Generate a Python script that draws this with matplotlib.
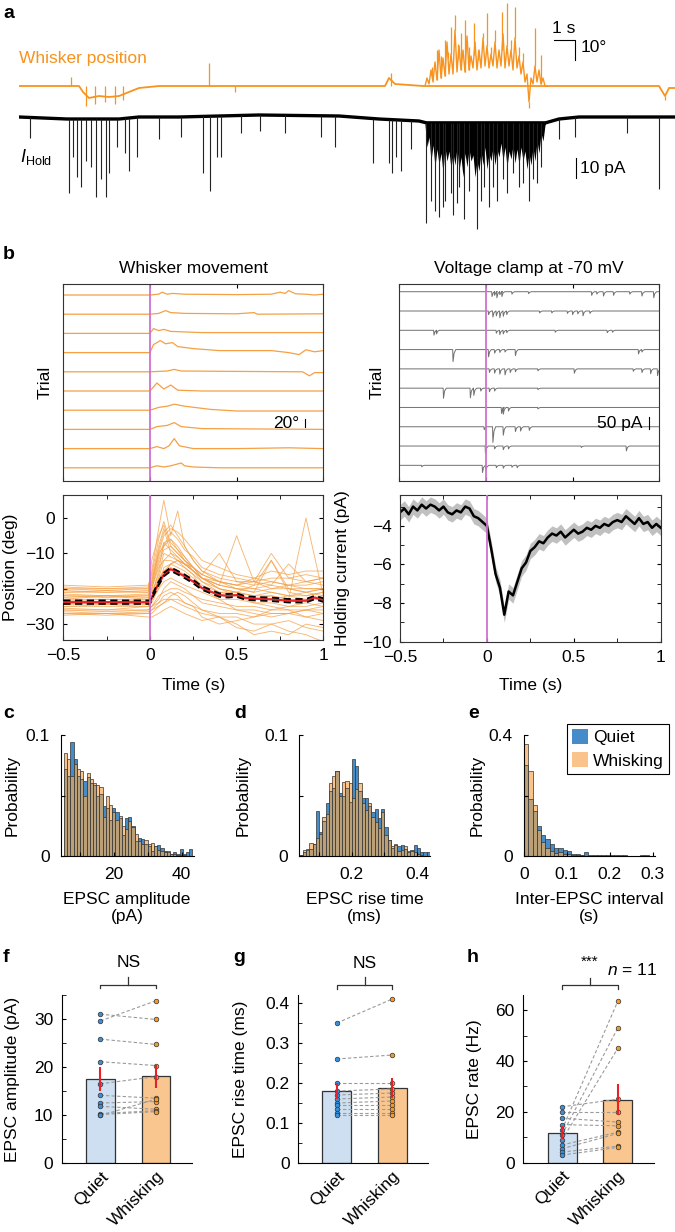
import numpy as np
import matplotlib
matplotlib.use("Agg")
import matplotlib.pyplot as plt
from matplotlib.patches import Patch

plt.rcParams['font.family'] = ['Liberation Sans', 'DejaVu Sans']
plt.rcParams['font.size'] = 12.5
plt.rcParams['mathtext.fontset'] = 'custom'
plt.rcParams['mathtext.rm'] = 'Liberation Sans'
plt.rcParams['mathtext.it'] = 'Liberation Sans:italic'
plt.rcParams['axes.linewidth'] = 0.8

W, H = 675, 1232
FS = 12.5

ORANGE = '#f7931e'
TRACE_OR = '#f5a045'
MAGENTA = '#d070d0'
Q_HIST = '#468cc8'
W_HIST = '#fac38c'
OVERLAP = '#b9a078'
Q_BAR = '#cddff0'
W_BAR = '#f9c690'
Q_DOT = '#3a8fd8'
W_DOT = '#f39a2b'

# ---------------- panel a: whisker position (deg) and holding current (pA) vs time (s)
wp_base_t = [0, 3.0, 3.2, 3.5, 4.0, 4.5, 5.0, 5.5, 6.0, 7.0, 18.3, 18.5, 18.8, 20.2,
             26.4, 27.0, 32.0, 32.3, 32.5, 32.8]
wp_base = [0, 0, -3, -6, -5, -5.5, -5, -3, -1, 0, 0, 4, 1, 0,
           0, 0, 0, -5, -1, -1]
# whisking bout, alternating troughs and peaks
wp_osc_t = [20.3, 20.4, 20.5, 20.6, 20.7, 20.8, 20.9, 21.0, 21.1, 21.2, 21.3, 21.4, 21.5, 21.6, 21.7,
            21.8, 21.9, 22.0, 22.1, 22.2, 22.3, 22.4, 22.5, 22.6, 22.7, 22.8, 22.9, 23.0, 23.1, 23.2,
            23.3, 23.4, 23.5, 23.6, 23.7, 23.8, 23.9, 24.0, 24.1, 24.2, 24.3, 24.4, 24.5, 24.6, 24.7,
            24.8, 24.9, 25.0, 25.1, 25.2, 25.3, 25.4, 25.5, 25.6, 25.7, 25.8, 25.9, 26.0, 26.1, 26.2,
            26.3, 26.4]
wp_osc = [0, 4, 1, 8, 2, 12, 3, 18, 4, 14, 5, 22, 6, 16, 6,
          28, 7, 20, 8, 18, 7, 25, 8, 15, 9, 22, 8, 18, 9, 24,
          10, 20, 9, 16, 10, 22, 9, 18, 10, 26, 9, 20, 10, 18, 8,
          24, 9, 15, 6, 12, 2, 6, -8, 4, 1, 10, 2, 8, 1, 4,
          0, 0]
wp_spk_t = [2.6, 3.35, 3.8, 4.3, 4.8, 5.2, 9.5, 10.8, 18.6,
            20.65, 20.9, 21.1, 21.3, 21.45, 21.6, 21.8, 21.95, 22.1, 22.3, 22.5, 22.75,
            22.95, 23.2, 23.4, 23.6, 23.8, 24.15, 24.4, 24.6, 24.8, 25.0, 25.2, 25.5, 25.8, 26.1, 32.3]
wp_spk = [4.5, -10, -9, -8, -9, -7, 11.5, -3, 6.5,
          9.7, 18, 15, 23, 17, 29.7, 35.5, 21, 26.3, 33, 19.7, 31.3,
          18, 26.3, 36.3, 19.7, 28, 37, 41.3, 23, 39.7, 19.7, 16.3, -11.2, 28.8, 15.5, -7]

ih_base_t = [0, 2.4, 5.0, 6.0, 8.0, 10.0, 12.0, 16.0, 18.0, 20.0, 20.4, 26.3, 27.0, 28.0, 32.8]
ih_base = [0, -1, -1, 0, 0, 0.5, 1, 0.5, -1, -2, -3, -3, -1, 0, 0]
ih_evt_t = [0.55, 2.5, 2.7, 2.9, 3.1, 3.35, 3.6, 3.85, 4.1, 4.35, 4.5, 4.9, 5.3, 5.5, 5.9, 7.0,
            8.1, 9.2, 9.55, 9.9, 10.1, 11.1, 12.05, 13.3, 15.1, 15.8, 17.7, 18.5, 18.65, 18.85,
            19.1, 19.6, 20.37, 20.6, 20.8, 21.0, 21.2, 21.3, 21.6, 21.7, 21.9, 22.0, 22.25, 22.5,
            22.9, 23.1, 23.25, 23.5, 23.7, 23.9, 24.2, 24.4, 24.7, 25.0, 25.2, 25.5, 25.7, 25.9,
            26.1, 27.0, 27.8, 30.4, 32.0]
ih_evt = [-10.5, -38, -20, -30, -35, -22, -25, -40, -31, -40, -28, -15, -18, -27, -20, -11,
          -10, -28, -37, -20, -20, -8, -7, -8, -10, -15, -23, -23, -28, -20,
          -27, -16, -53, -42, -47, -50, -45, -42, -38, -49, -43, -35, -51, -37,
          -56, -42, -35, -45, -35, -42, -31, -38, -28, -35, -33, -42, -31, -33,
          -25, -11, -10, -8, -36]
ih_burst_t = [20.3, 20.4, 20.5, 20.6, 20.7, 20.8, 20.9, 21.0, 21.1, 21.2, 21.3, 21.4, 21.5, 21.6,
              21.7, 21.8, 21.9, 22.0, 22.1, 22.2, 22.3, 22.4, 22.5, 22.6, 22.7, 22.8, 22.9, 23.0,
              23.1, 23.2, 23.3, 23.4, 23.5, 23.6, 23.7, 23.8, 23.9, 24.0, 24.1, 24.2, 24.3, 24.4,
              24.5, 24.6, 24.7, 24.8, 24.9, 25.0, 25.1, 25.2, 25.3, 25.4, 25.5, 25.6, 25.7, 25.8,
              25.9, 26.0, 26.1, 26.2, 26.3, 26.4]
ih_burst_lo = [-4, -15, -10, -22, -14, -25, -16, -24, -18, -28, -15, -22, -17, -26,
               -18, -24, -15, -27, -20, -30, -18, -25, -16, -22, -19, -30, -22, -27,
               -17, -24, -15, -26, -18, -22, -15, -24, -16, -20, -13, -22, -15, -25,
               -17, -21, -14, -23, -16, -24, -15, -22, -17, -26, -18, -24, -15, -22,
               -12, -18, -8, -12, -4, -2]

# ---------------- panel b: single trials
wm_rows = [
    [(-0.5, 0), (0, 0), (0.05, 2), (0.07, 7), (0.1, 2), (0.13, 4), (0.2, 2), (0.5, 1), (0.7, 2),
     (0.75, 7), (0.78, 4), (0.8, 11), (0.84, 3), (0.9, 2), (0.95, 0), (1.0, 2)],
    [(-0.5, 0), (0, 0), (0.05, 2), (0.09, 9), (0.12, 4), (0.2, 2), (0.5, 1), (0.6, 4), (0.62, 0), (1.0, 1)],
    [(-0.5, 0), (0, 0), (0.02, 12), (0.05, 7), (0.08, 10), (0.12, 5), (0.3, 2), (1.0, 2)],
    [(-0.5, 0), (0, 0), (0.02, 20), (0.06, 30), (0.09, 22), (0.13, 25), (0.16, 15), (0.25, 10),
     (0.4, 5), (0.7, 5), (0.8, 0), (0.86, -5), (0.9, 7), (0.95, 2), (1.0, 5)],
    [(-0.5, 0), (0, 0), (0.1, 2), (0.14, 6), (0.18, 2), (0.5, 1), (0.88, 0), (0.92, -10), (0.95, -2), (1.0, -2)],
    [(-0.5, 0), (0, 0), (0.04, 20), (0.08, 5), (0.12, 15), (0.16, 2), (0.3, 0), (1.0, 0)],
    [(-0.5, 0), (0, 0), (0.05, 7), (0.1, 10), (0.14, 15), (0.2, 10), (0.35, 2), (0.5, -2), (1.0, -2)],
    [(-0.5, 0), (0, 0), (0.04, 7), (0.1, 10), (0.14, 17), (0.18, 7), (0.3, 2), (1.0, 0)],
    [(-0.5, 0), (0, 0), (0.04, 5), (0.08, 0), (0.11, 7), (0.14, 25), (0.17, 7), (0.25, 0), (0.5, 0),
     (0.8, 2), (1.0, 0)],
    [(-0.5, 0), (0, 0), (0.04, 5), (0.08, 2), (0.12, 5), (0.18, 12), (0.2, 5), (0.25, 2), (0.4, 0), (1.0, 0)],
]
vc_rows = [
    [(0.035, 20), (0.05, 15), (0.063, 25), (0.08, 12), (0.092, 20), (0.15, 10), (0.246, 8), (0.61, 15),
     (0.64, 10), (0.678, 18), (0.736, 15), (0.83, 10), (0.9, 18), (0.968, 25)],
    [(0.015, 15), (0.04, 25), (0.06, 20), (0.08, 28), (0.1, 22), (0.12, 15), (0.31, 8), (0.38, 8),
     (0.47, 10), (0.5, 15), (0.53, 12), (0.56, 20), (0.6, 10)],
    [(-0.3, 20), (-0.285, 15), (0.06, 12), (0.08, 18), (0.1, 15), (0.12, 10), (0.4, 8), (0.7, 10), (0.73, 8)],
    [(-0.19, 50), (0.015, 30), (0.05, 15), (0.08, 12), (0.11, 10), (0.17, 25), (0.88, 18), (0.9, 10)],
    [(0.02, 15), (0.05, 18), (0.08, 22), (0.11, 25), (0.14, 15), (0.17, 12), (0.3, 8), (0.51, 18),
     (0.85, 10), (0.9, 15), (0.95, 20), (0.99, 28)],
    [(-0.245, 42), (-0.09, 40), (-0.07, 30), (-0.03, 12), (0.02, 15), (0.05, 12), (0.3, 6)],
    [(0.09, 25), (0.1, 28), (0.13, 15), (0.3, 6)],
    [(-0.01, 12), (0.04, 65), (0.1, 35), (0.17, 20), (0.2, 18), (0.25, 15)],
    [(-0.003, 30), (0.05, 12), (0.1, 15), (0.13, 12), (0.55, 6), (0.81, 20)],
    [(-0.37, 6), (-0.02, 30), (0.0, 20), (0.06, 10), (0.1, 12), (0.15, 8), (0.18, 10)],
]

# ---------------- panel b: averages
pos_t = [-0.5, -0.25, -0.01, 0.01, 0.05, 0.08, 0.12, 0.16, 0.2, 0.25, 0.3, 0.4, 0.5, 0.6, 0.7, 0.8, 0.9, 1.0]
pos_trials = [
    [-20, -20, -20, -15, -3, 5, -5, 2, -8, -12, -15, -18, -20, -20, -19, -20, -21, -20],
    [-21, -21, -21, -12, -5, -2, -8, -10, -12, -14, -16, -10, -18, -19, -12, -20, -20, -20],
    [-22, -22, -22, -18, -10, -8, -6, -9, -11, -14, -17, -19, -5, -18, -20, -19, -18, -17],
    [-23, -23, -23, -20, -14, -12, -12, -13, -14, -16, -18, -21, -21, -22, -22, -23, 0, -22],
    [-24, -24, -24, -22, -18, -15, -14, -15, -16, -18, -20, -22, -22, -23, -23, -22, -21, -22],
    [-25, -25, -25, -24, -20, -18, -17, -18, -19, -20, -21, -23, -23, -24, -24, -25, -25, -24],
    [-26, -26, -26, -25, -22, -21, -20, -20, -21, -22, -23, -24, -25, -25, -26, -26, -26, -25],
    [-27, -27, -27, -27, -25, -24, -23, -23, -24, -25, -26, -27, -27, -28, -27, -27, -28, -27],
    [-19.5, -20, -19.5, -17, -8, -3, -10, -12, -13, -15, -17, -18, -19, -18, -19, -13, -18, -19],
    [-23, -22, -23, -21, -16, -10, -11, -12, -13, -15, -17, -19, -20, -21, -12, -21, -22, -21],
    [-27.5, -27, -28, -28, -27, -26, -25, -26, -27, -28, -29, -28, -30, -33, -32, -33, -30, -31],
    [-25.5, -26, -25, -25, -24, -23, -23, -24, -25, -26, -27, -28, -28, -30, -30, -32, -33, -35],
    [-24.5, -24, -24.5, -23, -20, -16, -13, -12, -14, -16, -20, -23, -26, -27, -28, -27, -26, -27],
    [-21.5, -22, -21.5, -20, -12, -8, -4, -6, -9, -11, -14, -16, -17, -18, -17, -17, -18, -17],
    [-26.5, -27, -26.5, -26, -24, -22, -21, -22, -24, -25, -28, -30, -29, -28, -26, -25, -24, -25],
    [-20.5, -21, -20.5, -19, -10, -5, -3, -4, -6, -9, -12, -14, -16, -17, -15, -16, -15, -15],
    [-19, -19.5, -19, -16, -6, -1, -7, -9, -12, -14, -16, -18, -19, -17, -18, -19, -19, -18],
    [-22.5, -22, -22.5, -20, -13, -9, -8, -10, -12, -15, -17, -19, -20, -21, -20, -20, -21, -20],
    [-24, -24.5, -24, -23, -17, -12, -10, -11, -13, -15, -18, -20, -21, -22, -21, -22, -22, -21],
    [-25, -24.5, -25, -23, -19, -14, -13, -14, -15, -17, -19, -21, -22, -23, -22, -23, -23, -22],
    [-26, -26.5, -26, -25, -23, -20, -18, -19, -20, -22, -24, -25, -26, -26, -27, -27, -26, -26],
    [-23.5, -23, -23.5, -22, -15, -7, -6, -8, -11, -14, -17, -20, -22, -24, -25, -26, -28, -29],
    [-21, -20.5, -21, -19, -11, -7, -9, -11, -13, -15, -17, -20, -21, -19, -18, -19, -20, -20],
    [-27, -27.5, -27, -26, -25, -24, -22, -21, -22, -24, -26, -28, -31, -32, -30, -29, -31, -32],
    [-20, -20.5, -20, -18, -9, -4, -2, -5, -8, -12, -15, -17, -18, -18, -10, -17, -16, -17],
    [-22, -22.5, -22, -21, -17, -15, -13, -12, -13, -14, -16, -18, -19, -20, -21, -22, -23, -23],
]
mean_t = [-0.5, -0.25, 0, 0.02, 0.05, 0.08, 0.12, 0.15, 0.2, 0.25, 0.3, 0.35, 0.4, 0.45, 0.5,
          0.55, 0.6, 0.7, 0.8, 0.9, 0.95, 1.0]
pos_mean = [-23.8, -23.8, -23.8, -21.5, -18.5, -16, -14.5, -15.2, -16.5, -18, -19.8, -20.8, -21.8,
            -22.0, -21.8, -22.6, -22.8, -23.0, -23.4, -23.4, -22.5, -23.2]
pos_sem = [0.5] * len(mean_t)

ih_t = [-0.5, -0.475, -0.45, -0.425, -0.4, -0.375, -0.35, -0.325, -0.3, -0.275, -0.25, -0.225,
        -0.2, -0.175, -0.15, -0.125, -0.1, -0.075, -0.05, -0.025, 0, 0.025, 0.05, 0.075, 0.1,
        0.125, 0.15, 0.175, 0.2, 0.225, 0.25, 0.275, 0.3, 0.325, 0.35, 0.375, 0.4, 0.425, 0.45,
        0.475, 0.5, 0.525, 0.55, 0.575, 0.6, 0.625, 0.65, 0.675, 0.7, 0.725, 0.75, 0.775, 0.8,
        0.825, 0.85, 0.875, 0.9, 0.925, 0.95, 0.975, 1.0]
ih_mean = [-3.3, -3.1, -3.4, -3.0, -3.2, -2.9, -3.1, -2.9, -3.0, -3.2, -3.0, -3.3,
           -3.4, -3.2, -3.3, -3.0, -3.1, -3.5, -3.6, -3.8, -4.0, -5.2, -6.5, -7.2, -8.6,
           -7.4, -7.6, -6.9, -6.2, -5.9, -5.3, -5.1, -4.8, -4.9, -4.6, -4.4, -4.5, -4.3, -4.6,
           -4.4, -4.2, -4.4, -4.3, -4.1, -4.2, -4.0, -4.1, -3.9, -4.0, -3.8, -3.7, -3.8, -3.5,
           -3.7, -3.9, -3.6, -3.9, -3.8, -4.1, -3.9, -4.1]
ih_sem = [0.4] * len(ih_t)

# ---------------- panels c-e: histograms
amp_left, amp_bin = 5.2, 0.95
amp_quiet = [0.072, 0.066, 0.094, 0.080, 0.066, 0.064, 0.062, 0.065, 0.060, 0.059, 0.050, 0.051,
             0.041, 0.040, 0.030, 0.040, 0.036, 0.031, 0.017, 0.031, 0.032, 0.025, 0.012, 0.015,
             0.014, 0.010, 0.008, 0.004, 0.008, 0.009, 0.007, 0.004, 0.003, 0.002, 0.003, 0.002,
             0.006, 0.002, 0.003, 0.006]
amp_whisk = [0.085, 0.080, 0.066, 0.076, 0.072, 0.070, 0.050, 0.069, 0.064, 0.060, 0.059, 0.057,
             0.032, 0.050, 0.042, 0.036, 0.030, 0.033, 0.025, 0.022, 0.029, 0.024, 0.018, 0.012,
             0.010, 0.013, 0.010, 0.011, 0.008, 0.005, 0.004, 0.003, 0.004, 0.002, 0.002, 0.001,
             0.001, 0.001, 0.0, 0.0]
rise_left, rise_bin = 0.04, 0.01
rise_quiet = [0.001, 0.003, 0.005, 0.006, 0.010, 0.037, 0.020, 0.029, 0.044, 0.054, 0.056, 0.070,
              0.052, 0.050, 0.056, 0.045, 0.080, 0.074, 0.054, 0.048, 0.048, 0.041, 0.036, 0.039,
              0.031, 0.039, 0.024, 0.013, 0.007, 0.009, 0.008, 0.009, 0.006, 0.003, 0.005, 0.009,
              0.007, 0.003, 0.003, 0.003]
rise_whisk = [0.001, 0.005, 0.006, 0.011, 0.010, 0.015, 0.018, 0.032, 0.035, 0.060, 0.066, 0.070,
              0.050, 0.061, 0.062, 0.060, 0.048, 0.055, 0.060, 0.044, 0.038, 0.044, 0.032, 0.028,
              0.023, 0.036, 0.017, 0.013, 0.008, 0.010, 0.004, 0.005, 0.008, 0.004, 0.004, 0.003,
              0.002, 0.001, 0.0, 0.0]
iei_left, iei_bin = 0.0, 0.01
iei_quiet = [0.30, 0.19, 0.15, 0.10, 0.07, 0.055, 0.04, 0.028, 0.025, 0.02, 0.015, 0.005, 0.008,
             0.004, 0.012, 0.003, 0.003, 0.003, 0.003, 0.003, 0.003, 0.002, 0.002, 0.002, 0.001,
             0.001, 0.001, 0.003, 0.003, 0.001]
iei_whisk = [0.37, 0.28, 0.17, 0.085, 0.045, 0.025, 0.015, 0.01, 0.012, 0.008, 0.005, 0.003, 0.002,
             0.002, 0.001, 0.001, 0, 0, 0, 0, 0, 0, 0, 0, 0, 0, 0, 0, 0, 0]

# ---------------- panels f-h: per-cell paired values
conds = ['Quiet', 'Whisking']
amp_q = [31.0, 29.6, 25.8, 21.1, 16.5, 14.1, 12.5, 11.8, 10.3, 10.1, 9.9]
amp_w = [29.9, 33.8, 24.7, 20.3, 18.0, 13.5, 12.8, 11.2, 10.9, 10.7, 13.3]
amp_mean = [17.5, 18.1]
amp_err = [2.5, 2.4]
rt_q = [0.35, 0.26, 0.20, 0.18, 0.17, 0.16, 0.15, 0.145, 0.135, 0.125, 0.12]
rt_w = [0.41, 0.27, 0.20, 0.185, 0.175, 0.165, 0.155, 0.145, 0.135, 0.125, 0.12]
rt_mean = [0.18, 0.1875]
rt_err = [0.02, 0.025]
rate_q = [22, 20, 17.5, 15, 13, 11, 9, 7, 5.5, 4.2, 3]
rate_w = [25, 20, 16, 14.5, 63.5, 53, 45, 12, 11.5, 6.5, 6]
rate_mean = [11.8, 24.8]
rate_err = [2.5, 6.0]


def box(x0, y0, x1, y1):
    return [x0 / W, 1 - y1 / H, (x1 - x0) / W, (y1 - y0) / H]


def panel_label(x, y, s):
    fig.text(x / W, 1 - y / H, s, fontsize=14, fontweight='bold', va='center', ha='left')


fig = plt.figure(figsize=(W / 100, H / 100), dpi=100)

# ===== a
axo = fig.add_axes(box(19, 0, 675, 140))
axk = fig.add_axes(box(19, 100, 675, 240))
for ax in (axo, axk):
    ax.set_xlim(0, 32.8)
    ax.axis('off')
    ax.patch.set_alpha(0)
axo.set_ylim(-27, 43)
axk.set_ylim(-61.5, 8.5)

axo.plot(wp_base_t, wp_base, color=ORANGE, lw=1.3)
axo.plot(wp_osc_t, wp_osc, color=ORANGE, lw=1.0)
base_at = np.interp(wp_spk_t, wp_osc_t + wp_base_t[-6:], wp_osc + wp_base[-6:])
axo.vlines(wp_spk_t, base_at, wp_spk, color=ORANGE, lw=0.9)
axo.text(0.0, 14, 'Whisker position', color=ORANGE, fontsize=FS, va='center')
axo.plot([26.75, 27.8, 27.8], [23, 23, 13], color='k', lw=0.8)
axo.text(27.25, 25, '1 s', ha='center', va='bottom', fontsize=FS)
axo.text(28.1, 19, '10°', ha='left', va='center', fontsize=FS)

axk.fill_between(ih_burst_t, ih_burst_lo, -2, color='k', lw=0)
axk.plot(ih_base_t, ih_base, color='k', lw=2.4)
base_k = np.interp(ih_evt_t, ih_base_t, ih_base)
axk.vlines(ih_evt_t, base_k, ih_evt, color='#222222', lw=0.8)
axk.text(0.05, -20, r'$\mathit{I}_{\mathrm{Hold}}$', fontsize=13, va='center')
axk.plot([27.85, 27.85], [-20.5, -30.5], color='k', lw=0.8)
axk.text(28.05, -25.5, '10 pA', ha='left', va='center', fontsize=FS)
panel_label(3, 14, 'a')


# ===== b
def style_box(ax):
    ax.tick_params(direction='in', top=True, right=True, length=3, labelsize=FS, pad=6)
    for s in ax.spines.values():
        s.set_color('#333333')


ax_tl = fig.add_axes(box(63.3, 284, 323.3, 481))
ax_tr = fig.add_axes(box(399.3, 284, 659.3, 481))
ax_bl = fig.add_axes(box(63.3, 495, 323.3, 640))
ax_br = fig.add_axes(box(400, 495, 660.7, 641.7))

for i, row in enumerate(wm_rows):
    t = [p[0] for p in row]
    v = [p[1] - 48 * i for p in row]
    ax_tl.plot(t, v, color=TRACE_OR, lw=0.9)
ax_tl.set_ylim(-465, 27.5)
ax_tl.plot([0.895, 0.895], [-310, -330], color='k', lw=0.8)
ax_tl.text(0.86, -320, '20°', ha='right', va='center', fontsize=FS)
ax_tl.set_title('Whisker movement', fontsize=FS, pad=8)
ax_tl.set_ylabel('Trial', fontsize=FS)

for i, row in enumerate(vc_rows):
    t = [-0.5]
    v = [0.0]
    for et, d in sorted(row):
        t += [et - 0.002, et, et + 0.006, et + 0.016]
        v += [0, -d, -0.3 * d, 0]
    t.append(1.0)
    v.append(0.0)
    ax_tr.plot(t, np.array(v) - 80 * i, color='#707070', lw=0.7)
ax_tr.set_ylim(-785, 32)
ax_tr.plot([0.941, 0.941], [-521, -571], color='k', lw=0.8)
ax_tr.text(0.905, -546, '50 pA', ha='right', va='center', fontsize=FS)
ax_tr.set_title('Voltage clamp at -70 mV', fontsize=FS, pad=8)
ax_tr.set_ylabel('Trial', fontsize=FS)

for ax in (ax_tl, ax_tr):
    ax.set_xlim(-0.5, 1)
    ax.set_xticks([-0.5, 0, 0.5, 1])
    ax.set_xticklabels([])
    ax.set_yticks([])
    style_box(ax)
    ax.axvline(0, color=MAGENTA, lw=1.3)

for tr in pos_trials:
    ax_bl.plot(pos_t, tr, color=TRACE_OR, lw=0.65, alpha=0.75)
pm = np.array(pos_mean)
ps = np.array(pos_sem)
ax_bl.plot(mean_t, pm, color='#e8262b', lw=1.6, zorder=4)
ax_bl.plot(mean_t, pm + ps, color='k', lw=1.3, ls=(0, (4, 2.5)), zorder=5)
ax_bl.plot(mean_t, pm - ps, color='k', lw=1.3, ls=(0, (4, 2.5)), zorder=5)
ax_bl.set_ylim(-34.5, 6.5)
ax_bl.set_yticks([-30, -20, -10, 0])
ax_bl.set_ylabel('Position (deg)', fontsize=FS)

im = np.array(ih_mean)
isem = np.array(ih_sem)
ax_br.fill_between(ih_t, im - isem, im + isem, color='#c0c0c0', lw=0)
ax_br.plot(ih_t, im, color='k', lw=1.8)
ax_br.set_ylim(-10, -2.4)
ax_br.set_yticks([-10, -8, -6, -4])
ax_br.set_yticks([-9, -7, -5, -3], minor=True)
ax_br.set_ylabel('Holding current (pA)', fontsize=FS)

for ax in (ax_bl, ax_br):
    ax.set_xlim(-0.5, 1)
    ax.set_xticks([-0.5, 0, 0.5, 1])
    ax.set_xticklabels(['\u22120.5', '0', '0.5', '1'])
    ax.set_xticks([-0.25, 0.25, 0.75], minor=True)
    ax.set_xlabel('Time (s)', fontsize=FS)
    style_box(ax)
    ax.tick_params(which='minor', direction='in', top=True, right=True, length=3)
    ax.axvline(0, color=MAGENTA, lw=1.3, zorder=6)
    ax.set_yticklabels([str(int(v)).replace('-', '\u2212') for v in ax.get_yticks()])

ax_tl.yaxis.set_label_coords(-0.04, 0.5)
ax_tr.yaxis.set_label_coords(-0.055, 0.5)
ax_bl.yaxis.set_label_coords(-0.174, 0.5)
ax_br.yaxis.set_label_coords(-0.192, 0.5)
ax_bl.xaxis.set_label_coords(0.5, -0.262)
ax_br.xaxis.set_label_coords(0.5, -0.247)
panel_label(3, 254, 'b')


# ===== c-e
def paired_hist(ax, left, width, q, w):
    q = np.array(q)
    w = np.array(w)
    x = left + width * np.arange(len(q))
    hi = np.maximum(q, w)
    lo = np.minimum(q, w)
    cols = [Q_HIST if a >= b else W_HIST for a, b in zip(q, w)]
    ax.bar(x, hi, width, align='edge', color=cols, edgecolor='#333333', lw=0.5)
    ax.bar(x, lo, width, align='edge', color=OVERLAP, edgecolor='#333333', lw=0.5)
    for s in ('top', 'right'):
        ax.spines[s].set_visible(False)
    ax.tick_params(direction='in', length=3, labelsize=FS, pad=8)
    ax.set_ylabel('Probability', fontsize=FS)


ax_c = fig.add_axes(box(60.7, 735, 193.5, 856))
paired_hist(ax_c, amp_left, amp_bin, amp_quiet, amp_whisk)
ax_c.set_xlim(4.2, 43.5)
ax_c.set_ylim(0, 0.1)
ax_c.set_yticks([0, 0.05, 0.1])
ax_c.set_yticklabels(['0', '', '0.1'])
ax_c.set_xticks([10, 20, 30, 40])
ax_c.set_xticklabels(['', '20', '', '40'])
ax_c.set_xlabel('EPSC amplitude\n(pA)', fontsize=FS, linespacing=1.1)
ax_c.yaxis.set_label_coords(-0.31, 0.5)

ax_d = fig.add_axes(box(299.3, 735, 430, 856))
paired_hist(ax_d, rise_left, rise_bin, rise_quiet, rise_whisk)
ax_d.set_xlim(0.039, 0.44)
ax_d.set_ylim(0, 0.1)
ax_d.set_yticks([0, 0.05, 0.1])
ax_d.set_yticklabels(['0', '', '0.1'])
ax_d.set_xticks([0.1, 0.2, 0.3, 0.4])
ax_d.set_xticklabels(['', '0.2', '', '0.4'])
ax_d.set_xlabel('EPSC rise time\n(ms)', fontsize=FS, linespacing=1.1)
ax_d.yaxis.set_label_coords(-0.37, 0.5)

ax_e = fig.add_axes(box(524, 735, 655, 856))
paired_hist(ax_e, iei_left, iei_bin, iei_quiet, iei_whisk)
ax_e.set_xlim(0, 0.305)
ax_e.set_ylim(0, 0.4)
ax_e.set_yticks([0, 0.2, 0.4])
ax_e.set_yticklabels(['0', '', '0.4'])
ax_e.set_xticks([0, 0.1, 0.2, 0.3])
ax_e.set_xticklabels(['0', '0.1', '0.2', '0.3'])
ax_e.set_xlabel('Inter-EPSC interval\n(s)', fontsize=FS, linespacing=1.1)
ax_e.yaxis.set_label_coords(-0.30, 0.5)
for ax in (ax_c, ax_d, ax_e):
    ax.xaxis.set_label_coords(0.5, -0.30)

handles = [Patch(facecolor=Q_HIST, edgecolor='none'), Patch(facecolor=W_HIST, edgecolor='none')]
leg = fig.legend(handles, ['Quiet', 'Whisking'], loc='upper right',
                 bbox_to_anchor=(669 / W, 1 - 724 / H), fontsize=FS, frameon=True,
                 fancybox=False, edgecolor='k', framealpha=1, borderpad=0.3,
                 handlelength=0.9, handleheight=0.9, handletextpad=0.3, labelspacing=0.4,
                 borderaxespad=0)
leg.get_frame().set_linewidth(0.8)

panel_label(3, 713, 'c')
panel_label(234, 713, 'd')
panel_label(468, 713, 'e')


# ===== f-h
def paired_bars(ax, q, w, means, errs, ylabel):
    ax.bar([0, 1], means, 0.52, color=[Q_BAR, W_BAR], edgecolor='#333333', lw=0.9, zorder=1)
    for a, b in zip(q, w):
        ax.plot([0, 1], [a, b], color='#9a9a9a', lw=0.8, ls=(0, (3, 2)), zorder=2)
    ax.scatter([0] * len(q), q, s=11, color=Q_DOT, edgecolor='#333333', lw=0.5, zorder=3)
    ax.scatter([1] * len(w), w, s=11, color=W_DOT, edgecolor='#333333', lw=0.5, zorder=3)
    ax.errorbar([0, 1], means, yerr=errs, fmt='none', ecolor='#e8202a', elinewidth=1.5, capsize=0, zorder=4)
    ax.set_xlim(-0.7, 1.65)
    ax.set_xticks([0, 1])
    ax.set_xticklabels(conds, rotation=45, ha='right', va='top', rotation_mode='anchor')
    for s in ('top', 'right'):
        ax.spines[s].set_visible(False)
    ax.tick_params(direction='in', length=3, labelsize=FS, pad=6)
    ax.tick_params(which='minor', direction='in', length=3)
    ax.tick_params(axis='x', length=0, pad=4)
    ax.set_ylabel(ylabel, fontsize=FS)


def bracket(ax, y0, y1, ytext, label, size=FS):
    ax.plot([0, 0, 1, 1], [y0 - (y1 - y0) * 0.45, y0, y0, y0 - (y1 - y0) * 0.45],
            color='#333333', lw=0.9, clip_on=False)
    ax.plot([0.5, 0.5], [y0, y1], color='#333333', lw=0.9, clip_on=False)
    ax.text(0.5, ytext, label, ha='center', va='center', fontsize=size)


ax_f = fig.add_axes(box(61.65, 995, 192, 1163))
paired_bars(ax_f, amp_q, amp_w, amp_mean, amp_err, 'EPSC amplitude (pA)')
ax_f.set_ylim(0, 35)
ax_f.set_yticks([0, 10, 20, 30])
ax_f.set_yticks([5, 15, 25, 35], minor=True)
bracket(ax_f, 37.1, 38.75, 41.7, 'NS')
ax_f.yaxis.set_label_coords(-0.32, 0.5)

ax_g = fig.add_axes(box(298, 995, 428.4, 1163))
paired_bars(ax_g, rt_q, rt_w, rt_mean, rt_err, 'EPSC rise time (ms)')
ax_g.set_ylim(0, 0.42)
ax_g.set_yticks([0, 0.1, 0.2, 0.3, 0.4])
ax_g.set_yticklabels(['0', '0.1', '0.2', '0.3', '0.4'])
ax_g.set_yticks([0.05, 0.15, 0.25, 0.35], minor=True)
bracket(ax_g, 0.445, 0.465, 0.5, 'NS')
ax_g.yaxis.set_label_coords(-0.38, 0.5)

ax_h = fig.add_axes(box(523, 995, 654, 1162.7))
paired_bars(ax_h, rate_q, rate_w, rate_mean, rate_err, 'EPSC rate (Hz)')
ax_h.set_ylim(0, 66)
ax_h.set_yticks([0, 20, 40, 60])
ax_h.set_yticks([10, 30, 50], minor=True)
bracket(ax_h, 69.8, 72.6, 79.2, '***', size=11)
ax_h.text(1.25, 75.8, r'$\mathit{n}$ = 11', ha='center', va='center', fontsize=FS)
ax_h.yaxis.set_label_coords(-0.31, 0.5)

panel_label(3, 957, 'f')
panel_label(233, 957, 'g')
panel_label(467, 957, 'h')

fig.savefig('out.png', dpi=100)
